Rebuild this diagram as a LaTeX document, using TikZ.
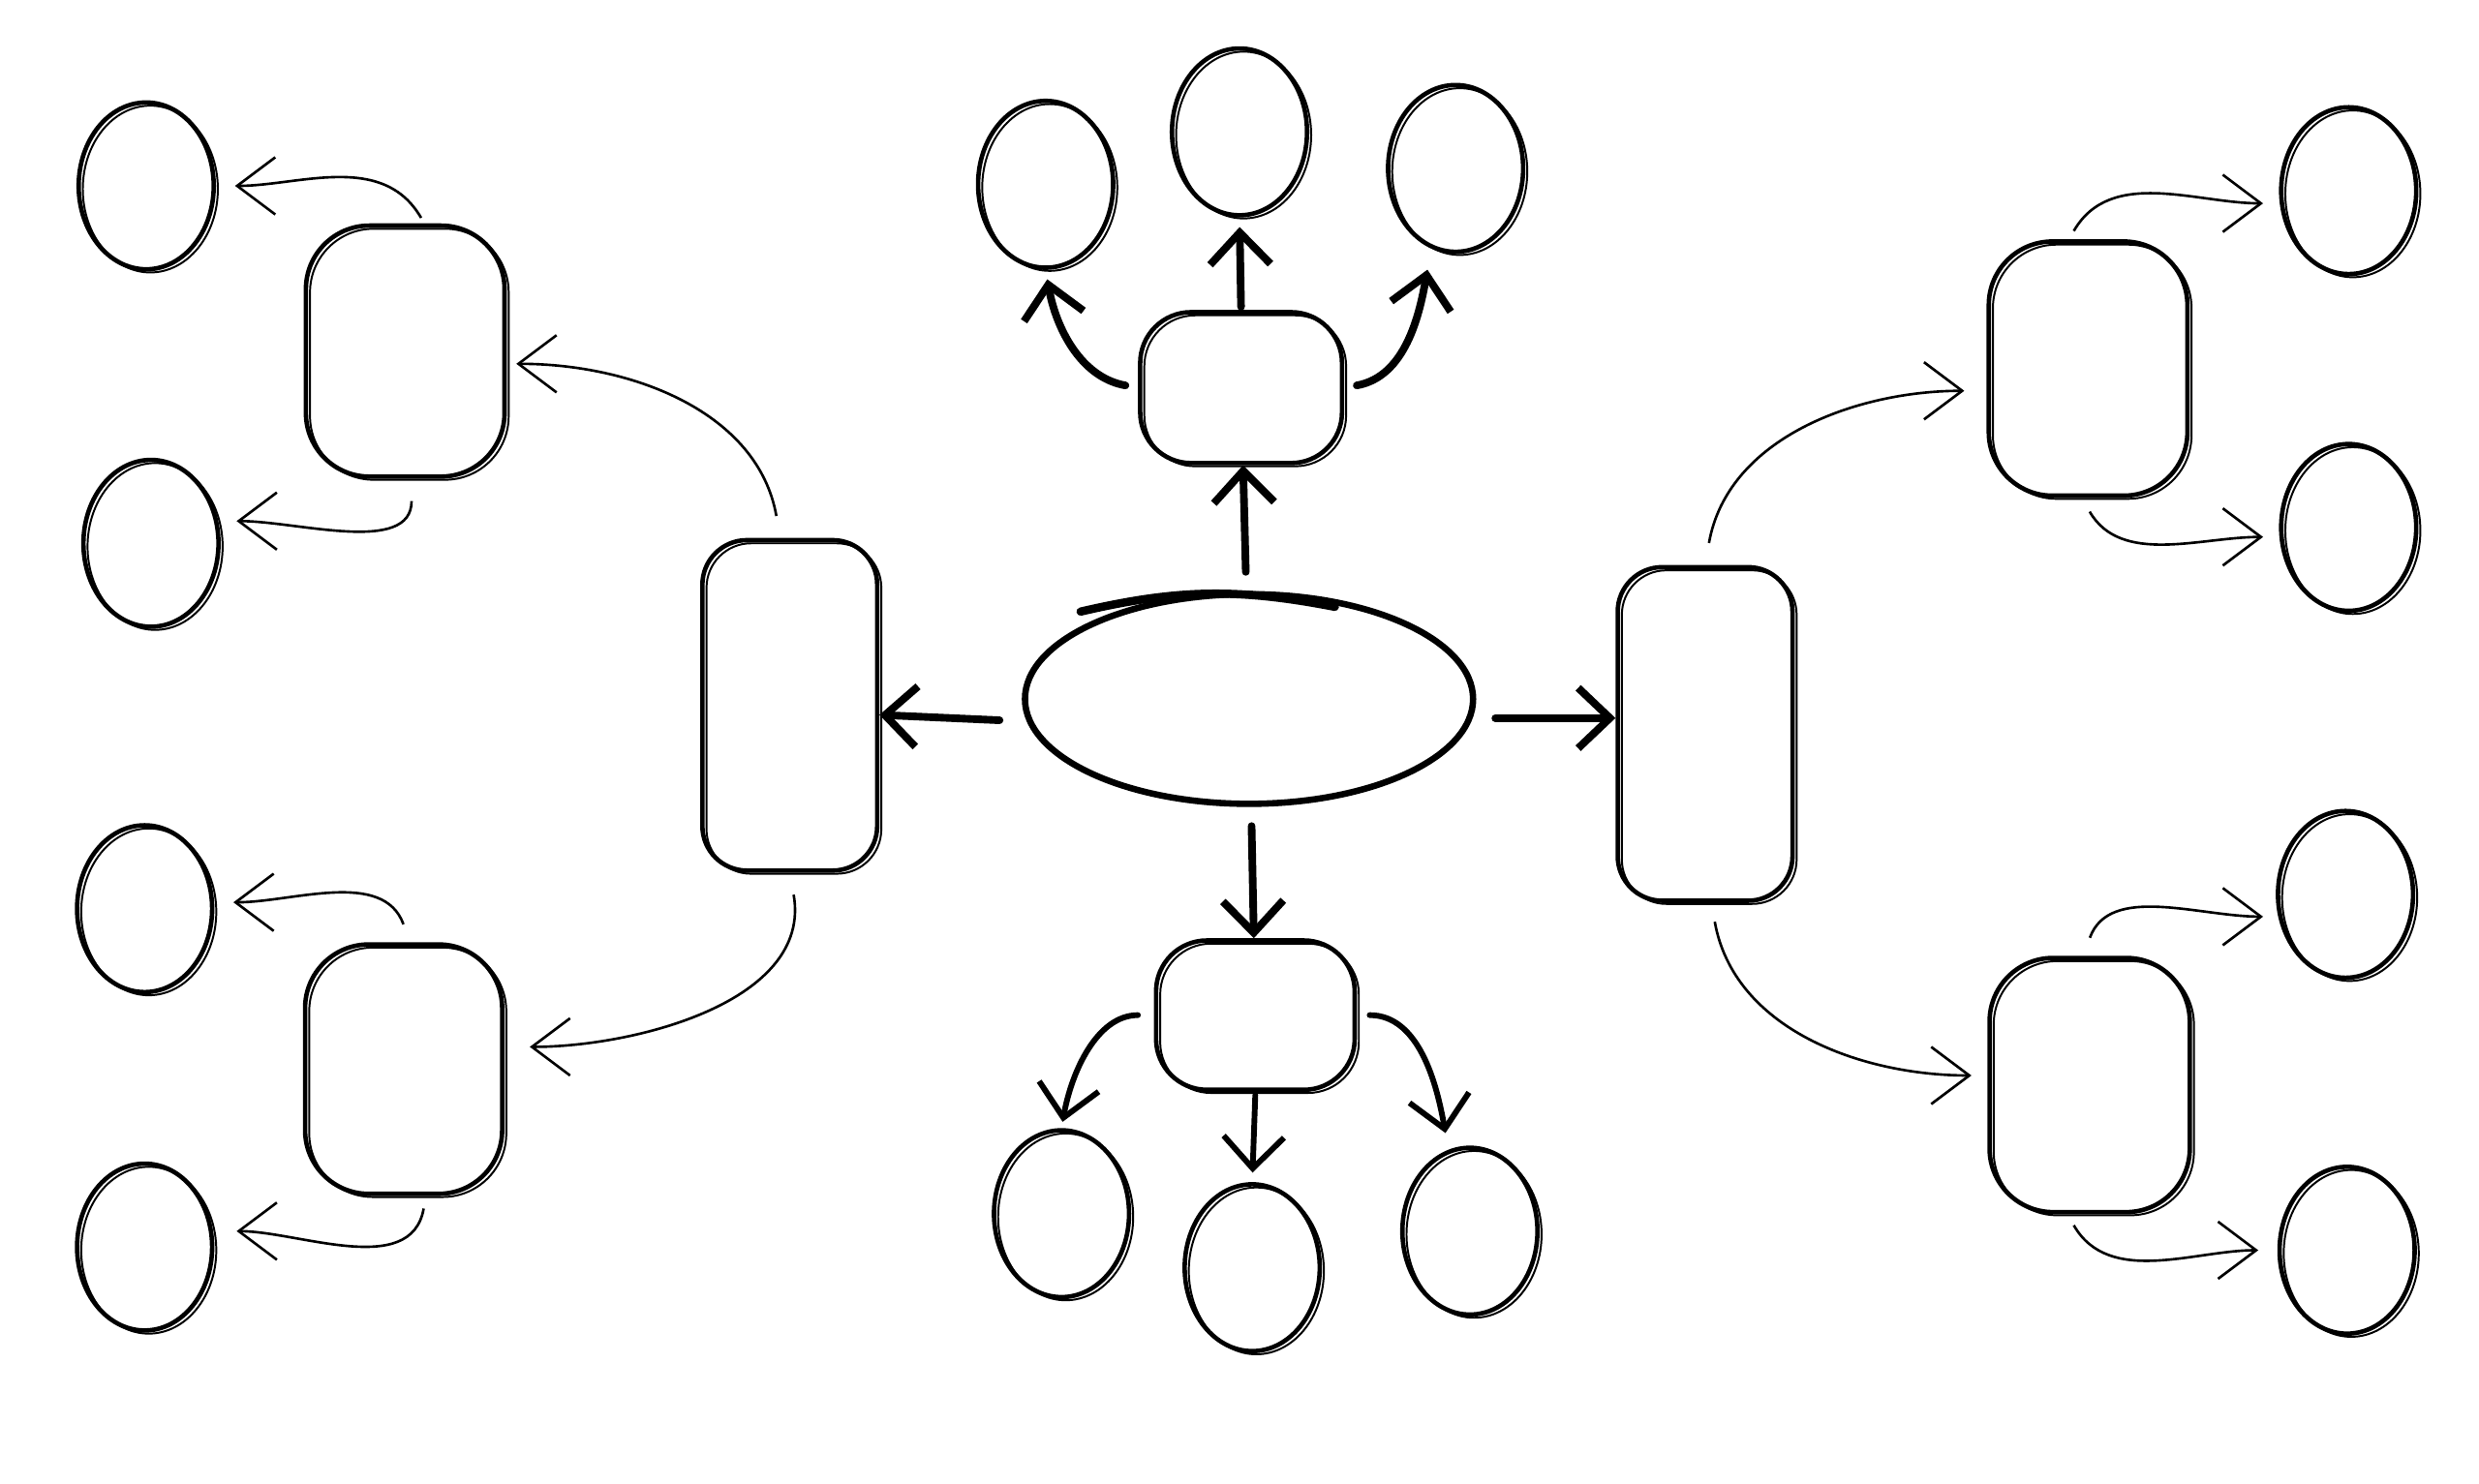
\documentclass[tikz,border=0pt]{standalone}
\usetikzlibrary{arrows.meta,shapes.geometric}
\tikzset{
  sketch/.style={draw,line width=1.4pt,inner sep=0pt,
    postaction={draw,line width=0.6pt,transform canvas={shift={(1.3pt,-1pt)}}}},
  box/.style={sketch,rectangle,rounded corners=14pt},
  bubble/.style={sketch,ellipse,minimum width=42.5pt,minimum height=52.5pt},
  link/.style={line width=0.8pt,-{Straight Barb[length=12pt,width=18pt]}},
  bold link/.style={line width=2.4pt,line cap=round,-{Straight Barb[length=10pt,width=19pt]}}
}
\begin{document}
\begin{tikzpicture}[x=0.5pt,y=0.5pt]
\useasboundingbox (0,0) rectangle (1560,-934);
% centre
\node[ellipse,draw,line width=2pt,minimum width=141pt,minimum height=66pt] (core) at (786,-440) {};
\draw[line width=2.6pt,line cap=round] ([shift={(-106,55)}]core.center) to[bend left=12] ([shift={(54,58)}]core.center);
% boxes
\begin{scope}[every node/.style={box}]
    \node[minimum width=55pt,minimum height=104pt] (lb) at (497,-444) {};
    \node[minimum width=55pt,minimum height=105pt] (rb) at (1073,-462) {};
    \node[minimum width=63.5pt,minimum height=47.5pt,rounded corners=16pt] (tb) at (781,-244) {};
    \node[minimum width=62.5pt,minimum height=47pt,rounded corners=16pt] (bb) at (790,-639) {};
    \node[minimum width=62.5pt,minimum height=79pt,rounded corners=20pt] (ul) at (255,-221) {};
    \node[minimum width=62pt,minimum height=78.5pt,rounded corners=20pt] (ll) at (254,-673) {};
    \node[minimum width=62.5pt,minimum height=80pt,rounded corners=20pt] (ur) at (1314,-232) {};
    \node[minimum width=63pt,minimum height=80pt,rounded corners=20pt] (lr) at (1315,-683) {};
\end{scope}
% leaves
\begin{scope}[every node/.style={bubble}]
    \node (c1) at (92,-117) {};
    \node (c2) at (95,-342) {};
    \node (c3) at (91,-572) {};
    \node (c4) at (91,-785) {};
    \node (t1) at (658,-116) {};
    \node (t2) at (780,-83) {};
    \node (t3) at (916,-106) {};
    \node (b1) at (668,-764) {};
    \node (b2) at (788,-798) {};
    \node (b3) at (925,-775) {};
    \node (r1) at (1478,-120) {};
    \node (r2) at (1478,-332) {};
    \node (r3) at (1476,-563) {};
    \node (r4) at (1477,-787) {};
\end{scope}
% from the centre
\begin{scope}[bold link]
\draw[shorten <=6pt] (core) -- (tb);
\draw[shorten <=7pt] ([yshift=-7pt]core.west) -- ([yshift=-5pt]core.west -| lb.east);
\draw[shorten <=6pt] ([yshift=-6pt]core.east) -- ([yshift=-6pt]core.east -| rb.west);
\draw[shorten <=6pt] (core) -- (bb);
\draw[shorten <=4pt,shorten >=3pt] (tb.west) to[out=170,in=-80] (t1.south);
\draw[shorten <=1pt,shorten >=3pt] (tb.north) -- (t2.south);
\draw[shorten <=4pt,shorten >=5pt] (tb.east) to[out=10,in=-100] ([xshift=-8pt]t3.south);
\draw[line width=1.8pt,shorten <=5pt,shorten >=2pt] (bb.west) to[out=180,in=80] (b1.north);
\draw[line width=1.8pt,shorten <=1pt,shorten >=3pt] (bb.south) -- (b2.north);
\draw[line width=1.8pt,shorten <=4pt,shorten >=4pt] (bb.east) to[out=0,in=100] ([xshift=-7pt]b3.north);
\end{scope}
% left branch
\begin{scope}[link]
\draw[shorten <=7pt,shorten >=3pt] ([xshift=-3pt]lb.north) to[out=100,in=0] ([yshift=-4pt]ul.east);
\draw[shorten <=7pt,shorten >=8pt] (lb.south) to[out=-80,in=0] ([yshift=7pt]ll.east);
\draw[shorten <=2pt,shorten >=6pt] ([xshift=6pt]ul.north) to[out=120,in=0] (c1.east);
\draw[shorten <=7pt,shorten >=5pt] ([xshift=2pt]ul.south) to[out=-90,in=0] ([yshift=7pt]c2.east);
\draw[shorten <=6pt,shorten >=6pt] ([xshift=2pt]ll.north) to[out=110,in=0] ([yshift=2pt]c3.east);
\draw[shorten <=4pt,shorten >=7pt] ([xshift=7pt]ll.south) to[out=-100,in=0] ([yshift=5pt]c4.east);
% right branch
\draw[shorten <=7pt,shorten >=7pt] (rb.north) to[out=80,in=180] ([yshift=-7pt]ur.west);
\draw[shorten <=6pt,shorten >=5pt] ([xshift=2pt]rb.south) to[out=-80,in=180] ([yshift=3pt]lr.west);
\draw[shorten <=3pt,shorten >=5pt] ([xshift=-6pt]ur.north) to[out=60,in=180] ([yshift=-4pt]r1.west);
\draw[shorten <=5pt,shorten >=5pt] ([xshift=-2pt]ur.south) to[out=-60,in=180] ([yshift=-3pt]r2.west);
\draw[shorten <=6pt,shorten >=4pt] ([xshift=-2pt]lr.north) to[out=70,in=180] ([yshift=-7pt]r3.west);
\draw[shorten <=4pt,shorten >=6pt] ([xshift=-7pt]lr.south) to[out=-60,in=180] (r4.west);
\end{scope}
\end{tikzpicture}
\end{document}
